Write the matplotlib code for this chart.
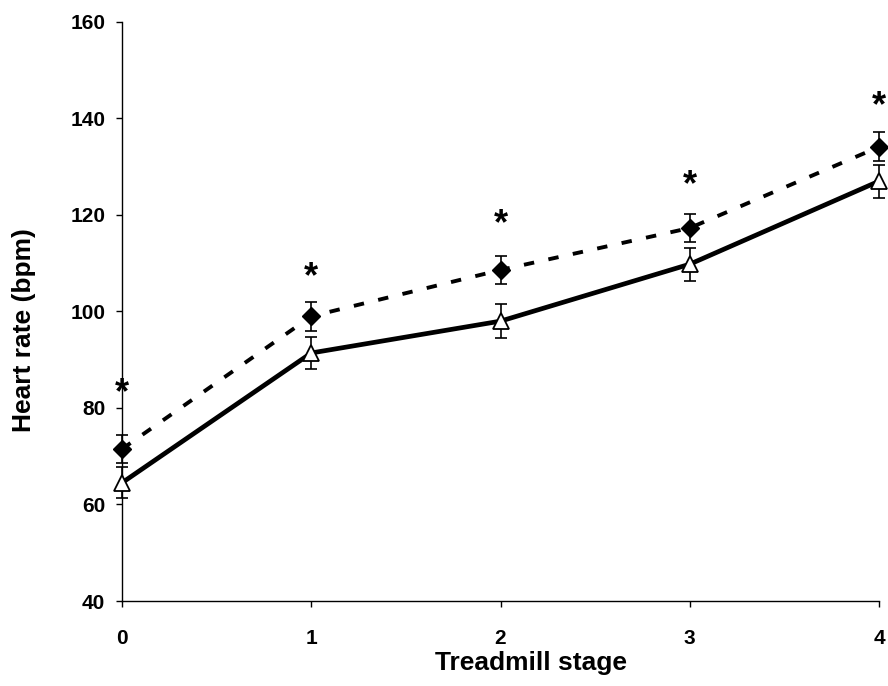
import matplotlib
matplotlib.use("Agg")
import matplotlib.pyplot as plt

# Data
stages = [0, 1, 2, 3, 4]
hr_dashed = [71.5, 99.0, 108.6, 117.3, 134.1]
err_dashed = [3.0, 3.0, 3.0, 3.0, 3.0]
hr_solid = [64.5, 91.4, 98.0, 109.8, 127.0]
err_solid = [3.2, 3.4, 3.5, 3.4, 3.4]
star_stages = [0, 1, 2, 3, 4]
star_y = [83.0, 107.0, 118.0, 126.0, 142.5]
yticks = [40, 60, 80, 100, 120, 140, 160]

plt.rcParams['font.family'] = ['Liberation Sans', 'DejaVu Sans']
plt.rcParams['lines.scale_dashes'] = False

fig = plt.figure(figsize=(8.88, 6.86), dpi=100)
ax = fig.add_axes([0.1374, 0.1239, 0.8525, 0.8441])

# solid line with open triangles
ax.errorbar(stages, hr_solid, yerr=err_solid, fmt='none', ecolor='black',
            elinewidth=1.2, capsize=4, capthick=1.2, clip_on=False, zorder=2)
ax.plot(stages, hr_solid, color='black', lw=3.4, solid_capstyle='butt',
        clip_on=False, zorder=3)
ax.plot(stages, hr_solid, linestyle='none', marker='^', markersize=11,
        markerfacecolor='white', markeredgecolor='black', markeredgewidth=1.3,
        clip_on=False, zorder=5)

# dashed line with filled diamonds
ax.errorbar(stages, hr_dashed, yerr=err_dashed, fmt='none', ecolor='black',
            elinewidth=1.2, capsize=4, capthick=1.2, clip_on=False, zorder=2)
ax.plot(stages, hr_dashed, color='black', lw=2.8, linestyle=(0, (7.5, 10.5)),
        dash_capstyle='butt', clip_on=False, zorder=3)
ax.plot(stages, hr_dashed, linestyle='none', marker='D', markersize=9.5,
        markerfacecolor='black', markeredgecolor='black',
        clip_on=False, zorder=5)

# significance asterisks
for s, y in zip(star_stages, star_y):
    ax.text(s, y, '*', ha='center', va='center', fontsize=26,
            fontweight='bold', clip_on=False)

ax.set_xlim(0, 4)
ax.set_ylim(40, 160)
ax.set_xticks(stages)
ax.set_yticks(yticks)
ax.tick_params(direction='out', length=4, width=1, labelsize=15)
ax.tick_params(axis='x', pad=16)
ax.tick_params(axis='y', pad=8)
for lab in ax.get_xticklabels() + ax.get_yticklabels():
    lab.set_fontweight('bold')

ax.spines['top'].set_visible(False)
ax.spines['right'].set_visible(False)
ax.spines['left'].set_linewidth(1)
ax.spines['bottom'].set_linewidth(1)

ax.set_xlabel('Treadmill stage', fontsize=19, fontweight='bold')
ax.set_ylabel('Heart rate (bpm)', fontsize=19, fontweight='bold')
ax.xaxis.set_label_coords(0.540, -0.086)
ax.yaxis.set_label_coords(-0.114, 0.468)

fig.savefig('out.png', dpi=100)
